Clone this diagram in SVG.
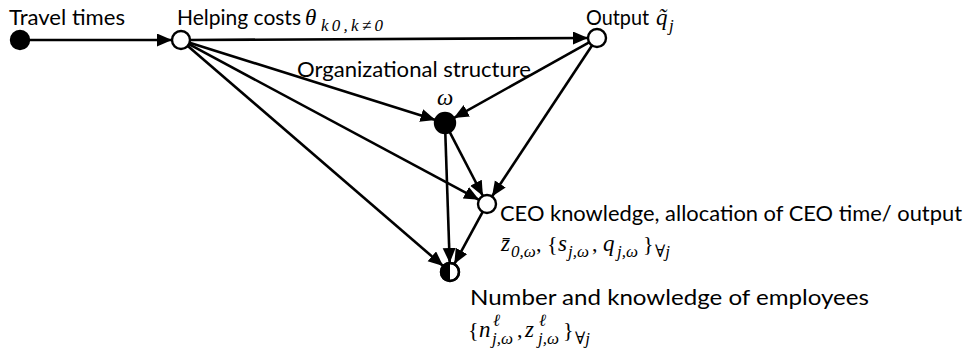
<svg xmlns="http://www.w3.org/2000/svg" width="969" height="354" viewBox="0 0 969 354">
<style>
.lbl{font-family:Lato,"Open Sans","Liberation Sans",sans-serif;font-size:21px;fill:#000}
.m{font-family:"Liberation Serif","DejaVu Serif",serif;font-style:italic;font-size:23px;fill:#000}
.u{font-family:"Liberation Serif","DejaVu Serif",serif;font-size:22px;fill:#000}
.s{font-family:"Liberation Serif","DejaVu Serif",serif;font-style:italic;font-size:17px;fill:#000}
.e{stroke:#000;stroke-width:2.6;fill:none;marker-end:url(#ah)}
.n{stroke:#000;stroke-width:2.4}
</style>
<defs>
<marker id="ah" markerUnits="userSpaceOnUse" markerWidth="16" markerHeight="14" refX="15" refY="6.5" orient="auto">
<path d="M0,0 L15,6.5 L0,13 z" fill="#000"/>
</marker>
</defs>
<rect width="969" height="354" fill="#fff"/>
<g id="connectors">
<line class="e" x1="29" y1="40" x2="172" y2="40"/>
<line class="e" x1="190" y1="40" x2="588" y2="38"/>
<line class="e" x1="189.6" y1="42.7" x2="435.5" y2="120"/>
<line class="e" x1="188.9" y1="44.2" x2="479.1" y2="199.8"/>
<line class="e" x1="187.8" y1="45.9" x2="443.2" y2="266.1"/>
<line class="e" x1="589.1" y1="42.4" x2="453.7" y2="118.1"/>
<line class="e" x1="592" y1="45.5" x2="492" y2="196.5"/>
<line class="e" x1="449.6" y1="131.9" x2="482.9" y2="196"/>
<line class="e" x1="445.3" y1="133" x2="449.7" y2="263"/>
<line class="e" x1="482.7" y1="211.9" x2="454.3" y2="264.1"/>
</g>
<g id="travel">
<circle class="n" cx="20" cy="40" r="9" fill="#000"/>
<text class="lbl" x="9" y="25" textLength="116" lengthAdjust="spacingAndGlyphs">Travel times</text>
</g>
<g id="helping">
<circle class="n" cx="181" cy="40" r="9" fill="#fff"/>
<text class="lbl" x="177" y="25" textLength="124" lengthAdjust="spacingAndGlyphs">Helping costs</text>
<text class="m" x="305" y="25">θ</text>
<text class="s" x="321" y="31" textLength="62" lengthAdjust="spacing">k0,k≠0</text>
</g>
<g id="output">
<circle class="n" cx="597" cy="38" r="9" fill="#fff"/>
<text class="lbl" x="586" y="25" textLength="63" lengthAdjust="spacingAndGlyphs">Output</text>
<text class="m" x="656" y="25">q̃</text>
<text class="s" x="669" y="31">j</text>
</g>
<g id="org">
<circle class="n" cx="445" cy="123" r="10" fill="#000"/>
<text class="lbl" x="297" y="77" textLength="234" lengthAdjust="spacingAndGlyphs">Organizational structure</text>
<text class="m" x="437" y="105">ω</text>
</g>
<g id="ceo">
<circle class="n" cx="487" cy="204" r="9" fill="#fff"/>
<text class="lbl" x="500" y="221" textLength="462" lengthAdjust="spacingAndGlyphs">CEO knowledge, allocation of CEO time/ output</text>
<text class="m" x="501" y="251">z̄</text>
<text class="s" x="511" y="257">0,ω</text>
<text class="u" x="536" y="251">,</text>
<text class="u" x="547" y="251">{</text>
<text class="m" x="558" y="251">s</text>
<text class="s" x="568" y="257">j,ω</text>
<text class="u" x="592" y="251">,</text>
<text class="m" x="603" y="251">q</text>
<text class="s" x="617" y="257">j,ω</text>
<text class="u" x="643" y="251">}</text>
<text class="s" x="655" y="257">∀j</text>
</g>
<g id="employees">
<circle class="n" cx="450" cy="272" r="9" fill="#fff"/>
<path d="M450,263 A9,9 0 0 0 450,281 Z" fill="#000"/>
<circle cx="450" cy="272" r="9" fill="none" stroke="#000" stroke-width="2.4"/>
<text class="lbl" x="470" y="305" textLength="399" lengthAdjust="spacingAndGlyphs">Number and knowledge of employees</text>
<text class="u" x="468" y="337">{</text>
<text class="m" x="479" y="337">n</text>
<text class="s" x="493" y="326">ℓ</text>
<text class="s" x="492" y="344">j,ω</text>
<text class="u" x="517" y="337">,</text>
<text class="m" x="525" y="337">z</text>
<text class="s" x="539" y="326">ℓ</text>
<text class="s" x="538" y="344">j,ω</text>
<text class="u" x="563" y="337">}</text>
<text class="s" x="575" y="344">∀j</text>
</g>
</svg>
